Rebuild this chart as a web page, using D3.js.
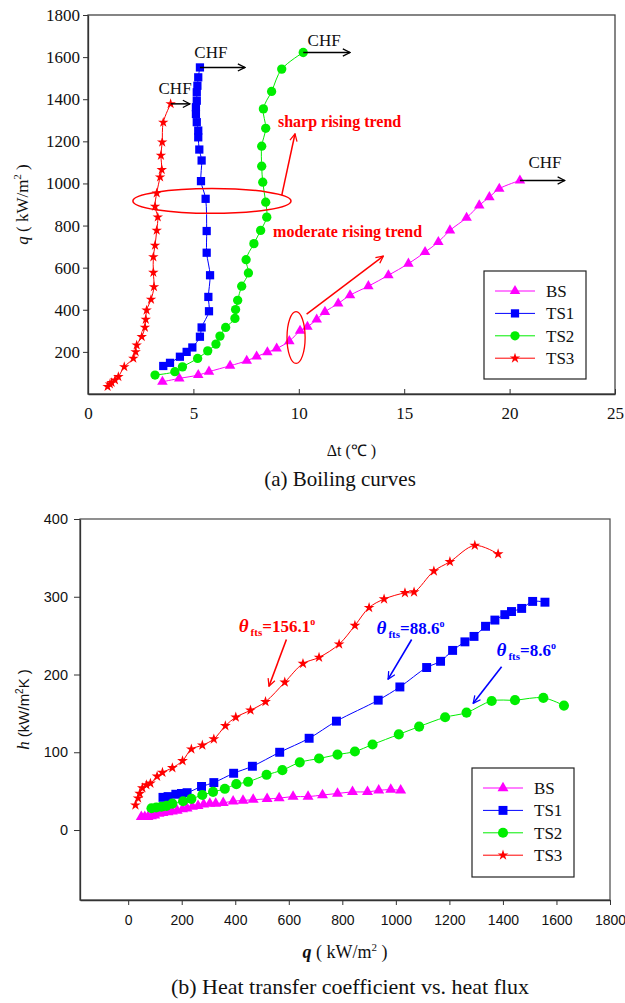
<!DOCTYPE html>
<html>
<head>
<meta charset="utf-8">
<script src="https://cdn.jsdelivr.net/npm/d3@7/dist/d3.min.js"></script>
<style>
  body { margin: 0; background: #fff; }
  svg { display: block; }
</style>
</head>
<body>
<svg id="chart" width="625" height="1003"></svg>
<script>
// (a) courbes d'ébullition : [Δt (°C), q (kW/m²)]
const boilBS = [[3.53,58],[4.33,74],[5.23,90],[5.74,106],[6.74,134],[7.53,158],[8.00,178],[8.51,198],[8.95,216],[9.55,251],[10.06,300],[10.41,319],[10.85,354],[11.24,390],[11.87,430],[12.43,469],[13.30,512],[14.25,564],[15.20,619],[15.99,674],[16.62,722],[17.17,777],[17.96,837],[18.56,896],[19.04,935],[19.51,975],[20.49,1014]];
const boilTS1 = [[3.57,133],[3.89,148],[4.36,177],[4.68,200],[4.95,221],[5.31,272],[5.39,316],[5.74,393],[5.71,461],[5.79,564],[5.63,671],[5.63,774],[5.58,927],[5.36,1011],[5.39,1109],[5.28,1161],[5.23,1219],[5.23,1251],[5.16,1291],[5.12,1330],[5.12,1362],[5.16,1393],[5.16,1433],[5.19,1464],[5.23,1504],[5.31,1551]];
const boilTS2 = [[3.18,90],[4.12,106],[4.48,129],[5.20,169],[5.68,205],[6.07,237],[6.26,275],[6.53,316],[6.97,359],[7.00,401],[7.10,445],[7.29,512],[7.61,575],[7.50,638],[7.87,714],[8.19,777],[8.48,840],[8.43,911],[8.29,1006],[8.24,1082],[8.24,1177],[8.43,1262],[8.32,1354],[8.71,1437],[9.19,1543],[10.21,1622]];
const boilTS3 = [[0.93,35],[1.04,47],[1.12,54],[1.28,66],[1.44,82],[1.72,129],[2.15,169],[2.26,200],[2.31,232],[2.55,272],[2.70,316],[2.74,354],[2.78,398],[2.99,449],[3.13,509],[3.10,577],[3.10,651],[3.18,706],[3.26,777],[3.31,840],[3.18,891],[3.26,954],[3.42,1030],[3.50,1065],[3.46,1133],[3.52,1196],[3.57,1290],[3.92,1378]];

// (b) coefficient d'échange : [q (kW/m²), h (kW/m²K)]
const htcBS = [[49,17],[62,17],[74,17],[87,18],[99,19],[115,21],[130,22],[149,23],[165,24],[183,25],[203,27],[220,28],[240,30],[261,31],[282,33],[305,34],[327,34],[355,35],[392,37],[429,38],[467,39],[519,40],[564,41],[616,43],[672,43],[726,45],[782,47],[838,49],[894,49],[936,51],[981,52],[1018,51]];
const htcTS1 = [[130,42],[149,43],[178,46],[199,47],[220,48],[274,56],[320,61],[394,73],[464,82],[566,100],[676,118],[778,140],[934,167],[1015,184],[1115,209],[1167,217],[1212,231],[1258,242],[1292,249],[1335,262],[1370,270],[1407,277],[1432,281],[1470,285],[1511,294],[1557,293]];
const htcTS2 = [[87,28],[105,29],[124,30],[143,31],[165,34],[205,37],[236,40],[277,45],[317,49],[361,53],[404,59],[448,62],[517,71],[576,77],[641,87],[713,92],[782,97],[847,101],[913,110],[1011,123],[1087,133],[1184,145],[1264,151],[1358,166],[1445,167],[1551,170],[1628,160]];
const htcTS3 = [[27,32],[37,41],[43,47],[53,54],[68,58],[83,60],[108,69],[128,74],[165,80],[203,89],[236,104],[277,109],[320,117],[363,134],[402,145],[457,154],[513,165],[585,190],[653,214],[713,222],[788,239],[847,263],[900,286],[956,297],[1034,305],[1068,306],[1142,333],[1202,345],[1295,366],[1382,355]];

const seriesNames = ['BS', 'TS1', 'TS2', 'TS3'];
const seriesColors = ['#ff00ff', '#0000ff', '#00ee00', '#ff0000'];

const boilXTicks = [0, 5, 10, 15, 20, 25];
const boilYTicks = [200, 400, 600, 800, 1000, 1200, 1400, 1600, 1800];
const htcXTicks = [0, 200, 400, 600, 800, 1000, 1200, 1400, 1600, 1800];
const htcYTicks = [0, 100, 200, 300, 400];

// flèches CHF : départ (dernier point), fin en Δt, texte
const chfNotes = [
  { from: [3.92, 1378], toX: 4.84, text: [4.13, 1427] },
  { from: [5.31, 1551], toX: 7.45, text: [5.83, 1597] },
  { from: [10.21, 1622], toX: 12.43, text: [11.2, 1654] },
  { from: [20.49, 1014], toX: 22.62, text: [21.68, 1071] }
];

const thetaNotes = [
  { label: '156.1', color: '#ff0000', text: [413, 255], from: [591, 245], to: [526, 185] },
  { label: '88.6', color: '#0000ff', text: [928, 252], from: [1059, 245], to: [971, 194] },
  { label: '8.6', color: '#0000ff', text: [1376, 224], from: [1395, 210], to: [1289, 163] }
];

const SERIF = '"Liberation Serif", "Times New Roman", serif';
const SANS = '"Liberation Sans", Arial, sans-serif';

const svg = d3.select('#chart');

const defs = svg.append('defs');
for (const [id, color] of [['arr-black', '#000'], ['arr-red', '#ff0000'], ['arr-blue', '#0000ff']]) {
  defs.append('marker')
    .attr('id', id)
    .attr('viewBox', '0 0 10 10')
    .attr('refX', 9).attr('refY', 5)
    .attr('markerWidth', 9).attr('markerHeight', 9)
    .attr('markerUnits', 'userSpaceOnUse')
    .attr('orient', 'auto')
    .append('path')
    .attr('d', 'M1,1 L9,5 L1,9')
    .attr('fill', 'none')
    .attr('stroke', color)
    .attr('stroke-width', 1.4);
}

function symbolFor(i, sizes) {
  const types = [d3.symbolTriangle, d3.symbolSquare, d3.symbolCircle, d3.symbolStar];
  return d3.symbol().type(types[i]).size(sizes[i]);
}

function drawSeries(g, x, y, series, sizes) {
  const line = d3.line()
    .x((d) => x(d[0]))
    .y((d) => y(d[1]))
    .curve(d3.curveCatmullRom.alpha(0.5));

  series.forEach((data, i) => {
    g.append('path')
      .datum(data)
      .attr('d', line)
      .attr('fill', 'none')
      .attr('stroke', seriesColors[i])
      .attr('stroke-width', 1);

    g.selectAll(`.pt-${i}`)
      .data(data)
      .enter()
      .append('path')
      .attr('class', `pt-${i}`)
      .attr('transform', (d) => `translate(${x(d[0])},${y(d[1])})`)
      .attr('d', symbolFor(i, sizes))
      .attr('fill', seriesColors[i]);
  });
}

function drawLegend(g, box, sizes) {
  g.append('rect')
    .attr('x', box.x).attr('y', box.y)
    .attr('width', box.w).attr('height', box.h)
    .attr('fill', '#fff')
    .attr('stroke', '#222')
    .attr('stroke-width', 1.2);

  seriesNames.forEach((name, i) => {
    const cy = box.y + 20 + i * 22.4;
    const x0 = box.x + 11;
    g.append('line')
      .attr('x1', x0).attr('x2', x0 + 40)
      .attr('y1', cy).attr('y2', cy)
      .attr('stroke', seriesColors[i])
      .attr('stroke-width', 1);
    g.append('path')
      .attr('transform', `translate(${x0 + 20},${cy})`)
      .attr('d', symbolFor(i, sizes))
      .attr('fill', seriesColors[i]);
    g.append('text')
      .attr('x', x0 + 51)
      .attr('y', cy + 6)
      .style('font-family', SERIF)
      .style('font-size', '17px')
      .attr('fill', '#111')
      .text(name);
  });
}

// ---------- (a) Boiling curves ----------
{
  const x = d3.scaleLinear().domain([0, 25]).range([88, 615]);
  const y = d3.scaleLinear().domain([0, 1800]).range([394, 15]);
  const g = svg.append('g');

  g.append('rect')
    .attr('x', x(0)).attr('y', y(1800))
    .attr('width', x(25) - x(0)).attr('height', y(0) - y(1800))
    .attr('fill', 'none')
    .attr('stroke', '#444')
    .attr('stroke-width', 1.3);

  g.append('g')
    .attr('transform', `translate(0,${y(0)})`)
    .call(d3.axisBottom(x).tickValues(boilXTicks).tickFormat(d3.format('d')).tickSizeInner(-5).tickSizeOuter(0).tickPadding(13))
    .call((ax) => ax.select('.domain').attr('stroke', '#333').attr('stroke-width', 1.3))
    .call((ax) => ax.selectAll('line').attr('stroke', '#333'))
    .call((ax) => ax.selectAll('text').attr('fill', '#111').style('font-family', SERIF).style('font-size', '17px'));

  g.append('g')
    .attr('transform', `translate(${x(0)},0)`)
    .call(d3.axisLeft(y).tickValues(boilYTicks).tickFormat(d3.format('d')).tickSizeInner(5).tickSizeOuter(0).tickPadding(3))
    .call((ax) => ax.select('.domain').attr('stroke', '#333').attr('stroke-width', 1.3))
    .call((ax) => ax.selectAll('line').attr('stroke', '#333'))
    .call((ax) => ax.selectAll('text').attr('fill', '#111').style('font-family', SERIF).style('font-size', '17px'));

  drawSeries(g, x, y, [boilBS, boilTS1, boilTS2, boilTS3], [48, 68, 68, 34]);

  // CHF
  for (const n of chfNotes) {
    g.append('line')
      .attr('x1', x(n.from[0])).attr('y1', y(n.from[1]))
      .attr('x2', x(n.toX)).attr('y2', y(n.from[1]))
      .attr('stroke', '#000').attr('stroke-width', 1.5)
      .attr('marker-end', 'url(#arr-black)');
    g.append('text')
      .attr('x', x(n.text[0])).attr('y', y(n.text[1]))
      .attr('text-anchor', 'middle')
      .style('font-family', SERIF).style('font-size', '17px')
      .attr('fill', '#111')
      .text('CHF');
  }

  // ellipses et flèches rouges
  g.append('ellipse')
    .attr('cx', x(5.88)).attr('cy', y(917))
    .attr('rx', x(5.88 + 3.75) - x(5.88)).attr('ry', y(917 - 59) - y(917))
    .attr('fill', 'none').attr('stroke', '#ff0000').attr('stroke-width', 1.5);
  g.append('line')
    .attr('x1', x(9.19)).attr('y1', y(943))
    .attr('x2', x(9.82)).attr('y2', y(1236))
    .attr('stroke', '#ff0000').attr('stroke-width', 1.5)
    .attr('marker-end', 'url(#arr-red)');
  g.append('text')
    .attr('x', x(9.01)).attr('y', y(1270))
    .style('font-family', SERIF).style('font-size', '16px').style('font-weight', 'bold')
    .attr('fill', '#ff0000')
    .text('sharp rising trend');

  g.append('ellipse')
    .attr('cx', x(9.87)).attr('cy', y(268))
    .attr('rx', x(9.87 + 0.43) - x(9.87)).attr('ry', y(268 - 123) - y(268))
    .attr('fill', 'none').attr('stroke', '#ff0000').attr('stroke-width', 1.3);
  g.append('line')
    .attr('x1', x(10.37)).attr('y1', y(379))
    .attr('x2', x(14.01)).attr('y2', y(655))
    .attr('stroke', '#ff0000').attr('stroke-width', 1.5)
    .attr('marker-end', 'url(#arr-red)');
  g.append('text')
    .attr('x', x(8.78)).attr('y', y(744))
    .style('font-family', SERIF).style('font-size', '16px').style('font-weight', 'bold')
    .attr('fill', '#ff0000')
    .text('moderate rising trend');

  drawLegend(g, { x: 484, y: 271, w: 102, h: 108 }, [48, 68, 68, 34]);

  // titres d'axes
  const yl = g.append('text')
    .attr('transform', `translate(28,${(y(0) + y(1800)) / 2}) rotate(-90)`)
    .attr('text-anchor', 'middle')
    .style('font-family', SERIF).style('font-size', '17px')
    .attr('fill', '#111');
  yl.append('tspan').style('font-style', 'italic').text('q');
  yl.append('tspan').text(' ( kW/m');
  yl.append('tspan').attr('dy', -7).style('font-size', '11px').text('2');
  yl.append('tspan').attr('dy', 7).text(' )');

  g.append('text')
    .attr('x', (x(0) + x(25)) / 2).attr('y', 456)
    .attr('text-anchor', 'middle')
    .style('font-family', SERIF).style('font-size', '16px')
    .attr('fill', '#111')
    .text('Δt (℃ )');

  g.append('text')
    .attr('x', 340).attr('y', 486)
    .attr('text-anchor', 'middle')
    .style('font-family', SERIF).style('font-size', '21px')
    .attr('fill', '#111')
    .text('(a)  Boiling curves');
}

// ---------- (b) Heat transfer coefficient vs. heat flux ----------
{
  const x = d3.scaleLinear().domain([-180, 1800]).range([80, 610]);
  const y = d3.scaleLinear().domain([-90, 400]).range([900, 519]);
  const g = svg.append('g');

  g.append('rect')
    .attr('x', x(-180)).attr('y', y(400))
    .attr('width', x(1800) - x(-180)).attr('height', y(-90) - y(400))
    .attr('fill', 'none')
    .attr('stroke', '#555')
    .attr('stroke-width', 1.3);

  g.append('g')
    .attr('transform', `translate(0,${y(-90)})`)
    .call(d3.axisBottom(x).tickValues(htcXTicks).tickFormat(d3.format('d')).tickSizeInner(5).tickSizeOuter(0).tickPadding(10))
    .call((ax) => ax.select('.domain').attr('stroke', '#333').attr('stroke-width', 1.3))
    .call((ax) => ax.selectAll('line').attr('stroke', '#333'))
    .call((ax) => ax.selectAll('text').attr('fill', '#111').style('font-family', SANS).style('font-size', '14px'));

  g.append('g')
    .attr('transform', `translate(${x(-180)},0)`)
    .call(d3.axisLeft(y).tickValues(htcYTicks).tickFormat(d3.format('d')).tickSizeInner(6).tickSizeOuter(0).tickPadding(6))
    .call((ax) => ax.select('.domain').attr('stroke', '#333').attr('stroke-width', 1.3))
    .call((ax) => ax.selectAll('line').attr('stroke', '#333'))
    .call((ax) => ax.selectAll('text').attr('fill', '#111').style('font-family', SANS).style('font-size', '14.5px'));

  drawSeries(g, x, y, [htcBS, htcTS1, htcTS2, htcTS3], [52, 80, 80, 36]);

  for (const n of thetaNotes) {
    g.append('line')
      .attr('x1', x(n.from[0])).attr('y1', y(n.from[1]))
      .attr('x2', x(n.to[0])).attr('y2', y(n.to[1]))
      .attr('stroke', n.color).attr('stroke-width', 1.6)
      .attr('marker-end', n.color === '#ff0000' ? 'url(#arr-red)' : 'url(#arr-blue)');
    const t = g.append('text')
      .attr('x', x(n.text[0])).attr('y', y(n.text[1]))
      .style('font-family', SERIF).style('font-weight', 'bold')
      .attr('fill', n.color);
    t.append('tspan').style('font-style', 'italic').style('font-size', '19px').text('θ');
    t.append('tspan').attr('dx', 2).attr('dy', 4).style('font-size', '11px').text('fts');
    t.append('tspan').attr('dy', -4).style('font-size', '17px').text(`=${n.label}`);
    t.append('tspan').attr('dy', -7).style('font-size', '10px').text('o');
  }

  drawLegend(g, { x: 472, y: 768, w: 102, h: 109 }, [52, 80, 80, 36]);

  const yl = g.append('text')
    .attr('transform', `translate(29,${(y(-90) + y(400)) / 2}) rotate(-90)`)
    .attr('text-anchor', 'middle')
    .style('font-family', SANS).style('font-size', '15px')
    .attr('fill', '#111');
  yl.append('tspan').style('font-family', SERIF).style('font-style', 'italic').style('font-size', '17px').text('h');
  yl.append('tspan').text(' (kW/m');
  yl.append('tspan').attr('dy', -6).style('font-size', '10px').text('2');
  yl.append('tspan').attr('dy', 6).text('K )');

  const xl = g.append('text')
    .attr('x', (x(-180) + x(1800)) / 2).attr('y', 958)
    .attr('text-anchor', 'middle')
    .style('font-family', SERIF).style('font-size', '18px')
    .attr('fill', '#111');
  xl.append('tspan').style('font-style', 'italic').style('font-weight', 'bold').text('q');
  xl.append('tspan').text(' ( kW/m');
  xl.append('tspan').attr('dy', -7).style('font-size', '11px').text('2');
  xl.append('tspan').attr('dy', 7).text(' )');

  g.append('text')
    .attr('x', 350).attr('y', 994)
    .attr('text-anchor', 'middle')
    .style('font-family', SERIF).style('font-size', '22px')
    .attr('fill', '#111')
    .text('(b)  Heat transfer coefficient vs. heat flux');
}
</script>
</body>
</html>
